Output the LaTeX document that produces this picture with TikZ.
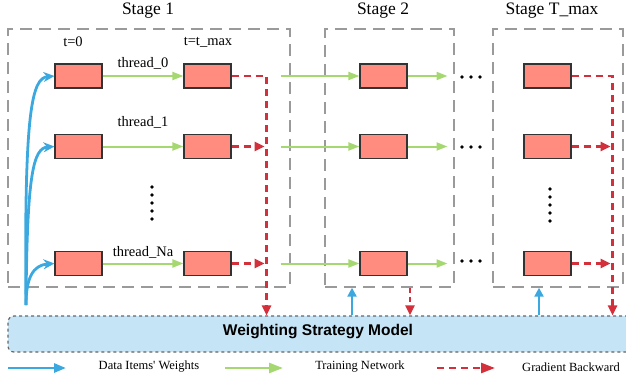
\documentclass[tikz,border=0pt]{standalone}
\usepackage{fontspec}
\setmainfont{Liberation Serif}
\newfontfamily\sansbold{Liberation Sans}
\usetikzlibrary{arrows.meta,calc}
\definecolor{cellred}{HTML}{FF8C7E}
\definecolor{gline}{HTML}{A6D872}
\definecolor{rline}{HTML}{D3303C}
\definecolor{bline}{HTML}{3BA8E0}
\definecolor{stagegray}{HTML}{9A9A9A}
\definecolor{modelfill}{HTML}{C5E4F5}
\begin{document}
\begin{tikzpicture}[x=1pt,y=-1pt,
  cell/.style={draw=black!80,fill=cellred,line width=1.1pt,minimum width=47pt,minimum height=24pt,inner sep=0pt},
  stagebox/.style={draw=stagegray,line width=1.4pt,dash pattern=on 12pt off 7pt,inner sep=0pt},
  garrow/.style={draw=gline,line width=2pt,-{Triangle[length=11pt,width=8pt]}},
  rdash/.style={draw=rline,line width=2.6pt,dash pattern=on 7pt off 5pt,-{Triangle[length=10pt,width=9pt]}},
  bcurve/.style={draw=bline,line width=2.8pt,-{Stealth[length=11pt,width=10pt]}},
  bup/.style={draw=bline,line width=2.6pt,-{Triangle[length=9pt,width=9pt]}},
  model/.style={draw=black!60,fill=modelfill,line width=1.2pt,dash pattern=on 3pt off 3pt,rounded corners=6pt,minimum width=626pt,minimum height=36pt,inner sep=0pt},
  stagelab/.style={font=\fontsize{17.5}{20}\selectfont},
  thlab/.style={font=\fontsize{14.5}{16}\selectfont},
  leglab/.style={font=\fontsize{12.5}{14}\selectfont},
  dotc/.style={fill=black}
]
\useasboundingbox (0,0) rectangle (626,384);

% stage boxes
\node[stagebox,minimum width=282pt,minimum height=258pt] (s1) at (149,158) {};
\node[stagebox,minimum width=129pt,minimum height=258pt] (s2) at (389.5,158) {};
\node[stagebox,minimum width=130pt,minimum height=258pt] (sT) at (558,158) {};

\node[stagelab] (l1) at (148,11) {Stage 1};
\node[stagelab] (l2) at (383,11) {Stage 2};
\node[stagelab] (lT) at (552,11) {Stage T\_max};

\node[thlab] (t0) at (73,42) {t=0};
\node[thlab] (tm) at (208,42) {t=t\_max};

% model
\node[model] (model) at (321,334) {};
\node[font=\sansbold\bfseries\fontsize{15.5}{18}\selectfont] (mtext) at (318,332) {Weighting Strategy Model};

% cells
\node[cell] (a0) at (78.5,76) {};
\node[cell] (b0) at (207.5,76) {};
\node[cell] (c0) at (383.5,76) {};
\node[cell] (d0) at (547.5,76) {};
\node[cell] (a1) at (78.5,146.5) {};
\node[cell] (b1) at (207.5,146.5) {};
\node[cell] (c1) at (383.5,146.5) {};
\node[cell] (d1) at (547.5,146.5) {};
\node[cell] (a2) at (78.5,263.5) {};
\node[cell] (b2) at (207.5,263.5) {};
\node[cell] (c2) at (383.5,263.5) {};
\node[cell] (d2) at (547.5,263.5) {};

\node[thlab] (th0) at (143,63) {thread\_0};
\node[thlab] (th1) at (143,122) {thread\_1};
\node[thlab] (th2) at (143,252) {thread\_Na};

% green arrows
\foreach \r in {0,1,2}{
  \draw[garrow] (a\r.east) -- (b\r.west);
  \draw[garrow] ([xshift=49pt]b\r.east) -- (c\r.west);
  \draw[garrow] (c\r.east) -- ([xshift=40pt]c\r.east);
}

% horizontal dots
\foreach \yy in {77,147,261}{
  \foreach \xx in {462,471,480}{ \fill[dotc] (\xx,\yy) circle (1.8); }
}
% vertical dots
\foreach \yy in {187,195,203,211,219}{ \fill[dotc] (152,\yy) circle (1.8); }
\foreach \yy in {189,197,205,213,221}{ \fill[dotc] (550,\yy) circle (1.8); }

% red dashed
\draw[rdash] (b0.east) -- ++(35,0) coordinate (r0) -- (r0 |- model.north);
\draw[rdash] (b1.east) -- ++(33,0);
\draw[rdash] (b2.east) -- ++(33,0);
\draw[rdash] (d0.east) -- ++(41,0) coordinate (rT) -- (rT |- model.north);
\draw[rdash] (d1.east) -- ++(39,0);
\draw[rdash] (d2.east) -- ++(39,0);
\coordinate (s2r) at ([xshift=20.5pt]s2.south);
\draw[rdash,dash pattern=on 5pt off 4pt] (s2r) -- (s2r |- model.north);

% blue up arrows
\coordinate (s2b) at ([xshift=-37.5pt]s2.south);
\coordinate (sTb) at ([xshift=-19pt]sT.south);
\draw[bup] (s2b |- model.north) -- (s2b);
\draw[bup,line width=2.2pt] (sTb |- model.north) -- (sTb);

% blue curves
\coordinate (bstart) at (26,305);
\draw[bcurve] (bstart) .. controls (24,110) and (32,78) .. (a0.west);
\draw[bcurve] (bstart) .. controls (27,175) and (33,148) .. (a1.west);
\draw[bcurve] (bstart) .. controls (26,278) and (33,265) .. (a2.west);

% legend
\coordinate (lg1a) at (8,368); \coordinate (lg1b) at (66,368);
\coordinate (lg2a) at (225,368); \coordinate (lg2b) at (283,368);
\coordinate (lg3a) at (437,368); \coordinate (lg3b) at (495,368);
\draw[bcurve,-{Triangle[length=12pt,width=9pt]}] (lg1a) -- (lg1b);
\draw[garrow,line width=2.6pt,-{Triangle[length=14pt,width=10pt]}] (lg2a) -- (lg2b);
\draw[rdash,-{Triangle[length=14pt,width=10pt]}] (lg3a) -- (lg3b);
\node[leglab] (lt1) at (149,367) {Data Items\textquotesingle{} Weights};
\node[leglab] (lt2) at (360,367) {Training Network};
\node[leglab] (lt3) at (571,367) {Gradient Backward};
\end{tikzpicture}
\end{document}
